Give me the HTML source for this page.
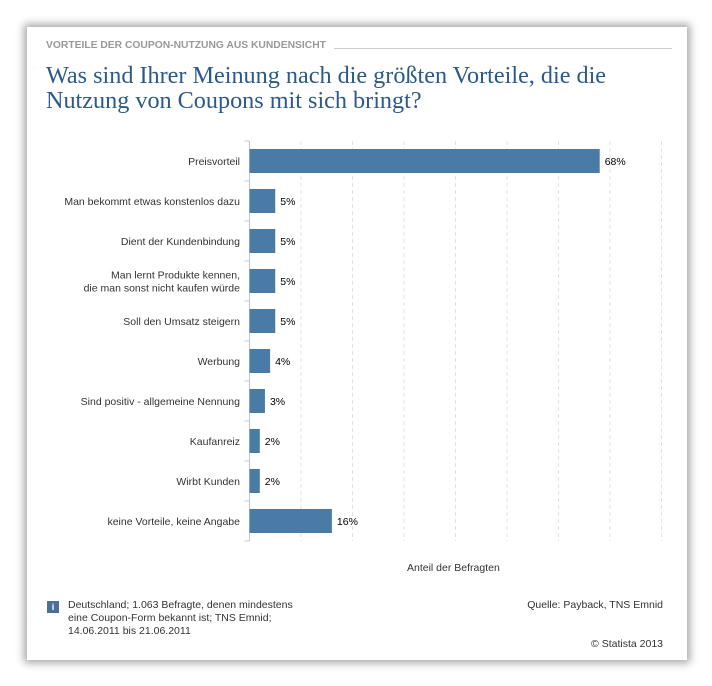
<!DOCTYPE html>
<html><head><meta charset="utf-8"><style>
body{margin:0;width:712px;height:686px;background:#fff;position:relative;font-family:"Liberation Sans",sans-serif;overflow:hidden}
#card{position:absolute;left:27px;top:27px;width:660px;height:633px;background:#fff;box-shadow:0 0 8px 3px rgba(0,0,0,0.35)}
.hdr{position:absolute;left:46px;top:40px;font-size:10.3px;font-weight:bold;color:#999;letter-spacing:0}
.hline{position:absolute;left:334px;top:48px;width:338px;height:1px;background:#ccc}
.title{position:absolute;left:46px;top:63px;font-family:"Liberation Serif",serif;font-size:24.2px;line-height:25px;color:#2b5a8a;white-space:nowrap}
.txt{position:absolute;font-size:10.5px;color:#333;line-height:13px}
</style></head><body>
<div id="card"></div>
<div class="hdr">VORTEILE DER COUPON-NUTZUNG AUS KUNDENSICHT</div>
<div class="hline"></div>
<div class="title">Was sind Ihrer Meinung nach die größten Vorteile, die die<br>Nutzung von Coupons mit sich bringt?</div>
<svg id="chart" width="712" height="686" style="position:absolute;left:0;top:0"></svg>
<div class="txt" style="left:407px;top:562px">Anteil der Befragten</div>
<div style="position:absolute;left:47px;top:601px;width:12px;height:12px;background:#4a6f98;color:#fff;font-size:9px;text-align:center;line-height:12px;font-weight:bold">i</div>
<div class="txt" style="left:68px;top:599px">Deutschland; 1.063 Befragte, denen mindestens<br>eine Coupon-Form bekannt ist; TNS Emnid;<br>14.06.2011 bis 21.06.2011</div>
<div class="txt" style="right:49px;top:599px">Quelle: Payback, TNS Emnid</div>
<div class="txt" style="right:49px;top:638px">© Statista 2013</div>
<script>
const categories=["Preisvorteil","Man bekommt etwas konstenlos dazu","Dient der Kundenbindung","Man lernt Produkte kennen,|die man sonst nicht kaufen würde","Soll den Umsatz steigern","Werbung","Sind positiv - allgemeine Nennung","Kaufanreiz","Wirbt Kunden","keine Vorteile, keine Angabe"];
const values=[68,5,5,5,5,4,3,2,2,16];
const valueLabels=["68%","5%","5%","5%","5%","4%","3%","2%","2%","16%"];
const gridTicks=[10,20,30,40,50,60,70,80];
const svg=document.getElementById('chart');
const NS='http://www.w3.org/2000/svg';
const x0=249.5,pxPer=5.15,top0=141,rowH=40;
const xs=v=>x0+v*pxPer;
function mk(t,a){const e=document.createElementNS(NS,t);for(const k in a)e.setAttribute(k,a[k]);svg.appendChild(e);return e;}
gridTicks.forEach(t=>{const l=mk('line',{x1:xs(t),x2:xs(t),y1:top0,y2:top0+rowH*categories.length,stroke:'#e3e3e3','stroke-dasharray':'4,3'});

});
const ax=mk('line',{x1:x0,x2:x0,y1:top0,y2:top0+rowH*categories.length,stroke:'#c0c8d0'});


for(let i=0;i<=categories.length;i++){const tk=mk('line',{x1:x0-5,x2:x0,y1:top0+i*rowH,y2:top0+i*rowH,stroke:'#c0c8d0'});

}
categories.forEach((c,i)=>{
const cy=top0+i*rowH+rowH/2;
const r=mk('rect',{x:x0,y:cy-12,width:values[i]*pxPer,height:24,fill:'#4a7ba6'});


const vl=mk('text',{x:xs(values[i])+5,y:cy+4,'font-size':'10.5','font-family':'Liberation Sans, sans-serif',fill:'#000'});
vl.textContent=valueLabels[i];


const lines=c.split('|');
lines.forEach((ln,j)=>{const t=mk('text',{x:240,y:cy+4+(j-(lines.length-1)/2)*13,'font-size':'10.5','font-family':'Liberation Sans, sans-serif',fill:'#333','text-anchor':'end'});
t.textContent=ln;

});
});
</script>
</body></html>
